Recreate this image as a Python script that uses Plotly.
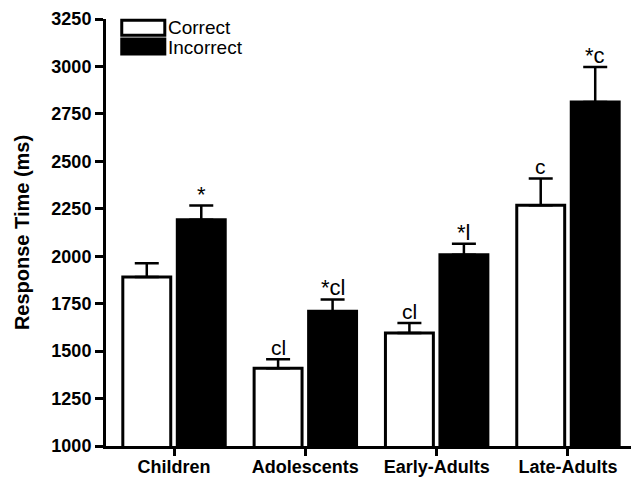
import plotly.graph_objects as go

categories = ["Children", "Adolescents", "Early-Adults", "Late-Adults"]
correct = [1890, 1410, 1595, 2268]
correct_err = [73, 47, 53, 142]
incorrect = [2192, 1710, 2008, 2812]
incorrect_err = [75, 62, 58, 185]
correct_labels = ["", "cl", "cl", "c"]
incorrect_labels = ["*", "*cl", "*l", "*c"]
yticks = [1000, 1250, 1500, 1750, 2000, 2250, 2500, 2750, 3000, 3250]

FONT = "Liberation Sans, Arial, sans-serif"
W = 0.365
OFF_C = -0.39
OFF_I = 0.025

fig = go.Figure()
fig.add_trace(go.Bar(
    x=categories, y=correct, name="Correct", width=W, offset=OFF_C,
    marker=dict(color="white", line=dict(color="black", width=3)),
    error_y=dict(type="data", symmetric=False, array=correct_err,
                 arrayminus=[0] * len(correct), color="black", thickness=2.5, width=12),
))
fig.add_trace(go.Bar(
    x=categories, y=incorrect, name="Incorrect", width=W, offset=OFF_I,
    marker=dict(color="black", line=dict(color="black", width=3)),
    error_y=dict(type="data", symmetric=False, array=incorrect_err,
                 arrayminus=[0] * len(incorrect), color="black", thickness=2.5, width=12),
))

bar_px = 131.3
for i, c in enumerate(categories):
    if correct_labels[i]:
        fig.add_annotation(x=c, y=correct[i] + correct_err[i], text=correct_labels[i],
                           xshift=(OFF_C + W / 2) * bar_px, yshift=-2, yanchor="bottom",
                           showarrow=False, font=dict(family=FONT, size=21, color="black"))
    if incorrect_labels[i]:
        fig.add_annotation(x=c, y=incorrect[i] + incorrect_err[i], text=incorrect_labels[i],
                           xshift=(OFF_I + W / 2) * bar_px, yshift=-3, yanchor="bottom",
                           showarrow=False, font=dict(family=FONT, size=22, color="black"))

# legend drawn manually
fig.add_shape(type="rect", xref="paper", yref="paper", x0=0.03, x1=0.112, y0=0.962, y1=0.997,
              line=dict(color="black", width=3), fillcolor="white")
fig.add_shape(type="rect", xref="paper", yref="paper", x0=0.03, x1=0.112, y0=0.918, y1=0.953,
              line=dict(color="black", width=3), fillcolor="black")
fig.add_annotation(xref="paper", yref="paper", x=0.114, y=0.981, text="Correct", xanchor="left",
                   yanchor="middle", showarrow=False, font=dict(family=FONT, size=19, color="black"))
fig.add_annotation(xref="paper", yref="paper", x=0.114, y=0.934, text="Incorrect", xanchor="left",
                   yanchor="middle", showarrow=False, font=dict(family=FONT, size=19, color="black"))

fig.update_layout(
    width=631, height=481,
    margin=dict(l=106, r=0, t=19, b=35),
    plot_bgcolor="white", paper_bgcolor="white",
    showlegend=False,
    font=dict(family=FONT, color="black"),
    xaxis=dict(
        range=[-0.518, 3.48], showline=True, linecolor="black", linewidth=3,
        ticks="outside", ticklen=7, tickwidth=2.5, tickcolor="black",
        tickfont=dict(family=FONT, size=18, color="black", weight="bold"),
        ticklabelstandoff=-5,
        showgrid=False, zeroline=False, automargin=False,
    ),
    yaxis=dict(
        range=[1000, 3250], tickvals=yticks, showline=True, linecolor="black", linewidth=3,
        ticks="outside", ticklen=8, tickwidth=2.5, tickcolor="black",
        tickfont=dict(family=FONT, size=18, color="black", weight="bold"),
        showgrid=False, zeroline=False, automargin=False,
        title=dict(text="Response Time (ms)", font=dict(family=FONT, size=20, color="black", weight="bold"),
                   standoff=17),
    ),
)

fig.write_html("out.html")
